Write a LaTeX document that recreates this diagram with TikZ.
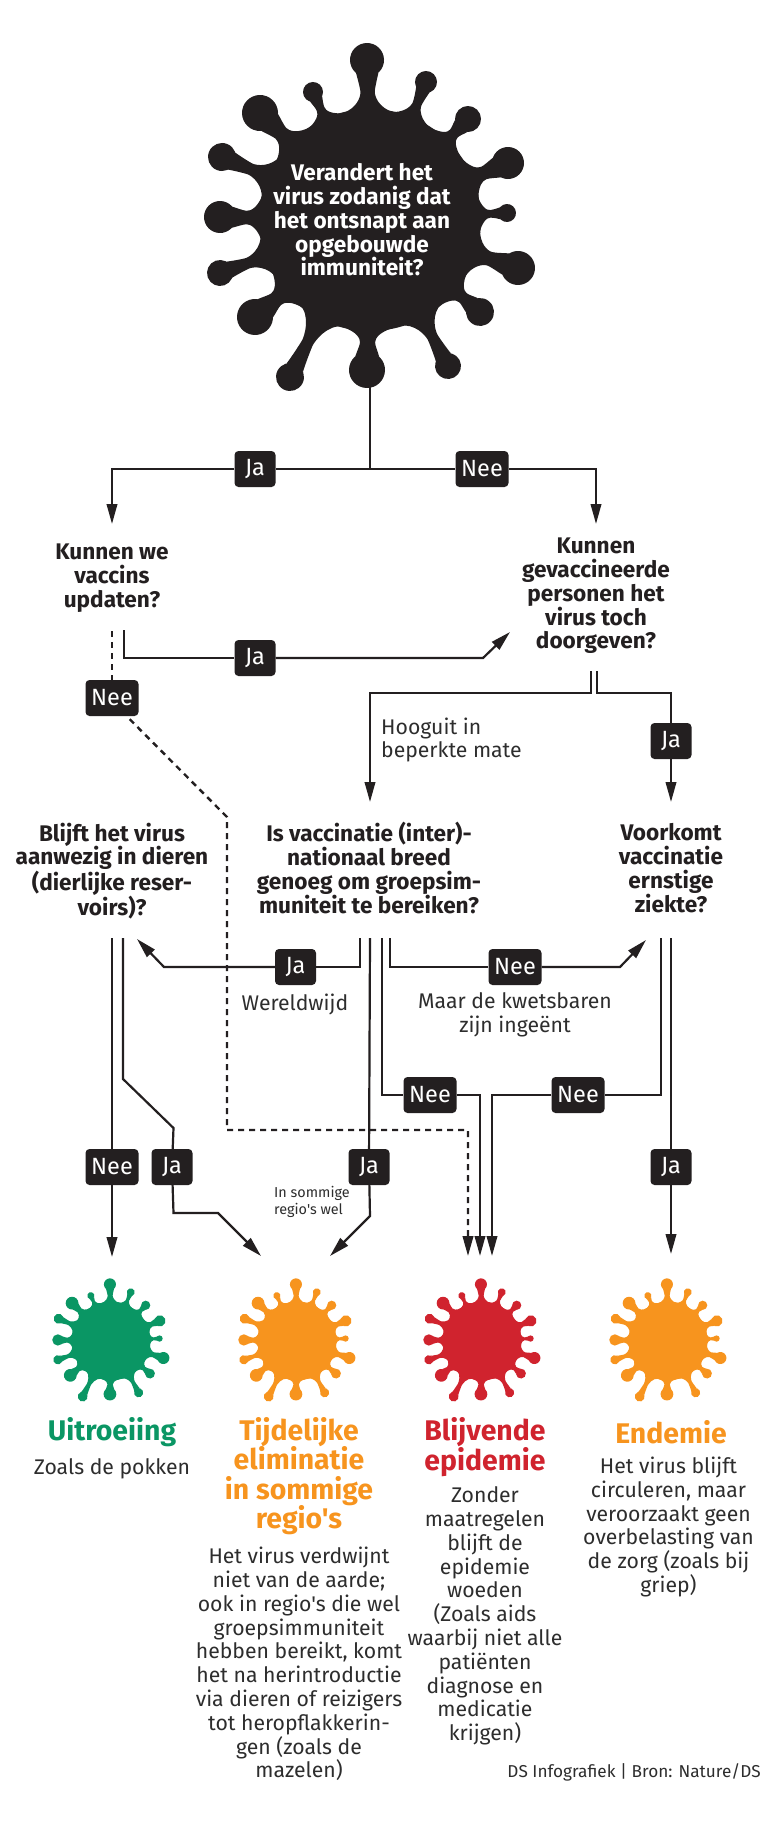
\documentclass[tikz,border=0pt]{standalone}
\usepackage{fontspec}
\usepackage{tikz}
\usetikzlibrary{positioning,arrows.meta,calc}
\newfontfamily\infoFont{Fira Sans}
\definecolor{inkBlack}{RGB}{35,31,32}
\definecolor{bodyGrey}{RGB}{45,45,45}
\definecolor{virusGreen}{RGB}{10,150,100}
\definecolor{virusOrange}{RGB}{247,148,30}
\definecolor{virusRed}{RGB}{208,35,46}
\tikzset{
    pics/virus/.style={code={
        \fill[#1] (0,0) circle (111);
        \foreach \hx/\hy/\hr in {-3/-160/17,56/-138/11,98/-101/13,138/-57/16,137/-7/9,148/48/17,110/92/14,78/146/13,-3/150/18,-80/157/14,-115/97/18,-150/53/13,-150/-3/16,-148/-63/14,-110/-107/18,-57/-128/10}{
            \pgfmathsetmacro\hang{atan2(-\hy,\hx)}
            \pgfmathsetmacro\hdist{veclen(\hx,\hy)}
            \pgfmathsetmacro\hneck{0.42*\hr}
            \pgfmathsetmacro\hmid{0.5*(111+\hdist-\hr)+1}
            \pgfmathsetmacro\hbase{\hneck+19}
            \pgfmathsetmacro\hcap{\hdist-0.75*\hr}
            \pgfmathsetmacro\hside{0.66*\hr}
            \begin{scope}[rotate=\hang]
                \fill[#1] (\hdist,0) circle (\hr);
                \fill[#1] (107,-\hbase) .. controls (112,-\hneck-3) and (\hmid-4,-\hneck) .. (\hmid,-\hneck)
                    .. controls (\hmid+3,-\hneck) and (\hcap-4,-\hside+1) .. (\hcap,-\hside)
                    -- (\hcap,\hside) .. controls (\hcap-4,\hside-1) and (\hmid+3,\hneck) .. (\hmid,\hneck)
                    .. controls (\hmid-4,\hneck) and (112,\hneck+3) .. (107,\hbase) -- cycle;
            \end{scope}
        }
    }}
}
\begin{document}
\begin{tikzpicture}[
    x=1pt, y=-1pt,
    every node/.style={inner sep=0pt, align=center},
    questionNode/.style={text=inkBlack, font=\infoFont\fontsize{22.6}{23.8}\selectfont\bfseries},
    bodyNode/.style={text=bodyGrey, font=\infoFont\fontsize{21.2}{23.8}\selectfont},
    titleNode/.style={font=\infoFont\fontsize{28.4}{29.5}\selectfont\bfseries},
    chipNode/.style={rectangle, fill=inkBlack, text=white, rounded corners=4pt, minimum height=36pt, font=\infoFont\fontsize{23.5}{24}\selectfont},
    jaChip/.style={chipNode, minimum width=41pt},
    neeChip/.style={chipNode, minimum width=53pt},
    relEdge/.style={draw=inkBlack, line width=2.2pt, -{Triangle[length=20pt,width=10.5pt]}},
    relLine/.style={draw=inkBlack, line width=2.2pt},
    dashEdge/.style={relEdge, line width=2.4pt, dash pattern=on 6pt off 5pt}
]
    \useasboundingbox[fill=white] (0,0) rectangle (768,1827);

    \pic at (370,220) {virus=inkBlack};
    \pic [scale=.354] at (111,1341) {virus=virusGreen};
    \pic [scale=.354] at (297,1341) {virus=virusOrange};
    \pic [scale=.354] at (482,1341) {virus=virusRed};
    \pic [scale=.354] at (668,1341) {virus=virusOrange};

    \node [questionNode, text=white] (qVirus) at (362,220) {Verandert het\\virus zodanig dat\\het ontsnapt aan\\opgebouwde\\immuniteit?};
    \node [questionNode] (qUpdate) at (112,578) {Kunnen we\\vaccins\\updaten?};
    \node [questionNode] (qPass) at (596,596) {Kunnen\\gevaccineerde\\personen het\\virus toch\\doorgeven?};
    \node [questionNode] (qAnimal) at (112,871) {Blijft het virus\\aanwezig in dieren\\(dierlijke reser-\\voirs)?};
    \node [questionNode] (qHerd) at (369,868) {Is vaccinatie (inter)-\\nationaal breed\\genoeg om groepsim-\\muniteit te bereiken?};
    \node [questionNode] (qSevere) at (671,868) {Voorkomt\\vaccinatie\\ernstige\\ziekte?};

    \node [bodyNode, align=left, anchor=west] (noteLimited) at (381,740) {Hooguit in\\beperkte mate};
    \node [bodyNode] (noteWorld) at (295,1004) {Wereldwijd};
    \node [bodyNode] (noteWeak) at (515,1015) {Maar de kwetsbaren\\zijn ingeënt};
    \node [bodyNode, align=left, anchor=west, font=\infoFont\fontsize{14.4}{17}\selectfont] (noteRegion) at (274,1202) {In sommige\\regio's wel};

    \node [jaChip] (jaUpdate) at (255,469) {Ja};
    \node [neeChip] (neeImmune) at (482,469) {Nee};
    \node [jaChip] (jaPass) at (255,658) {Ja};
    \node [neeChip] (neeUpdate) at (112,698) {Nee};
    \node [jaChip] (jaSpread) at (671,741) {Ja};
    \node [jaChip] (jaWorld) at (295.5,967) {Ja};
    \node [neeChip] (neeWeak) at (515,967) {Nee};
    \node [neeChip] (neeHerd) at (430,1095) {Nee};
    \node [neeChip] (neeSevere) at (578,1095) {Nee};
    \node [neeChip] (neeAnimal) at (112,1167) {Nee};
    \node [jaChip] (jaAnimal) at (172,1167) {Ja};
    \node [jaChip] (jaRegion) at (369,1167) {Ja};
    \node [jaChip] (jaEndemic) at (671,1167) {Ja};

    \node [titleNode, text=virusGreen] (titleGone) at (112,1432) {Uitroeiing};
    \node [titleNode, text=virusOrange] (titleLocal) at (299,1476) {Tijdelijke\\eliminatie\\in sommige\\regio's};
    \node [titleNode, text=virusRed] (titleEpidemic) at (485,1447) {Blijvende\\epidemie};
    \node [titleNode, text=virusOrange] (titleEndemic) at (671,1432) {Endemie};

    \node [bodyNode] (textGone) at (112,1469) {Zoals de pokken};
    \node [bodyNode] (textLocal) at (299,1664) {Het virus verdwijnt\\niet van de aarde;\\ook in regio's die wel\\groepsimmuniteit\\hebben bereikt, komt\\het na herintroductie\\via dieren of reizigers\\tot heropflakkerin-\\gen (zoals de\\mazelen)};
    \node [bodyNode] (textEpidemic) at (485,1616) {Zonder\\maatregelen\\blijft de\\epidemie\\woeden\\(Zoals aids\\waarbij niet alle\\patiënten\\diagnose en\\medicatie\\krijgen)};
    \node [bodyNode] (textEndemic) at (668.5,1527) {Het virus blijft\\circuleren, maar\\veroorzaakt geen\\overbelasting van\\de zorg (zoals bij\\griep)};
    \node [bodyNode, anchor=east, font=\infoFont\fontsize{17.2}{19}\selectfont] (credit) at (761,1772) {DS Infografiek | Bron: Nature/DS};

    \coordinate (virusFoot) at (370,385);
    \coordinate (split) at (370,469);
    \coordinate (updateTip) at (112,524);
    \coordinate (passTip) at (596,524);
    \coordinate (updateJa) at (124,630);
    \coordinate (updateNee) at (112,631);
    \coordinate (passTurn) at (483,658);
    \coordinate (passIn) at (510,632);
    \coordinate (passLeft) at (591,671);
    \coordinate (passRight) at (597,671);
    \coordinate (herdTip) at (370,802);
    \coordinate (severeTip) at (671,802);
    \coordinate (animalOutA) at (112,938);
    \coordinate (animalOutB) at (123,938);
    \coordinate (animalIn) at (137,939);
    \coordinate (herdOutA) at (360,938);
    \coordinate (herdOutB) at (370,938);
    \coordinate (herdOutC) at (382,938);
    \coordinate (herdOutD) at (390,938);
    \coordinate (severeIn) at (646,940);
    \coordinate (severeOutA) at (661,938);
    \coordinate (severeOutB) at (671,938);
    \coordinate (goneTip) at (112,1257);
    \coordinate (localTipA) at (261,1256);
    \coordinate (localTipB) at (330,1256);
    \coordinate (epidemicTipA) at (468,1256);
    \coordinate (epidemicTipB) at (480,1256);
    \coordinate (epidemicTipC) at (492,1256);
    \coordinate (endemicTip) at (671,1254);

    \path [relLine] (virusFoot) -- (split);
    \path [relLine] (split) -- (jaUpdate);
    \path [relEdge] (jaUpdate) -| (updateTip);
    \path [relLine] (split) -- (neeImmune);
    \path [relEdge] (neeImmune) -| (passTip);

    \path [relLine] (updateJa) |- (jaPass);
    \path [relEdge] (jaPass) -- (passTurn) -- (passIn);
    \path [dashEdge, -] (updateNee) -- (neeUpdate);
    \path [dashEdge] (neeUpdate.south east) ++(-9,3) -- (227,817) -- (227,1130) -- (468,1130) -- (epidemicTipA);

    \path [relEdge] (passLeft) -- (591,693) -| (herdTip);
    \path [relLine] (passRight) -- (597,693) -| (jaSpread);
    \path [relEdge] (jaSpread) -- (severeTip);

    \path [relLine] (herdOutA) |- (jaWorld);
    \path [relEdge] (jaWorld) -- (164,967) -- (animalIn);
    \path [relLine] (herdOutD) |- (neeWeak);
    \path [relEdge] (neeWeak) -- (620,967) -- (severeIn);
    \path [relLine] (herdOutB) -- (jaRegion);
    \path [relEdge] (jaRegion) -- (370,1216) -- (localTipB);
    \path [relLine] (herdOutC) |- (neeHerd);
    \path [relEdge] (neeHerd) -| (epidemicTipB);
    \path [relLine] (severeOutA) |- (neeSevere);
    \path [relEdge] (neeSevere) -| (epidemicTipC);
    \path [relLine] (severeOutB) -- (jaEndemic);
    \path [relEdge] (jaEndemic) -- (endemicTip);

    \path [relLine] (animalOutA) -- (neeAnimal);
    \path [relEdge] (neeAnimal) -- (goneTip);
    \path [relLine] (animalOutB) -- (123,1079) -- (173.5,1128) -- (jaAnimal);
    \path [relEdge] (jaAnimal) -- (173.5,1213) -- (218,1213) -- (localTipA);
\end{tikzpicture}
\end{document}
